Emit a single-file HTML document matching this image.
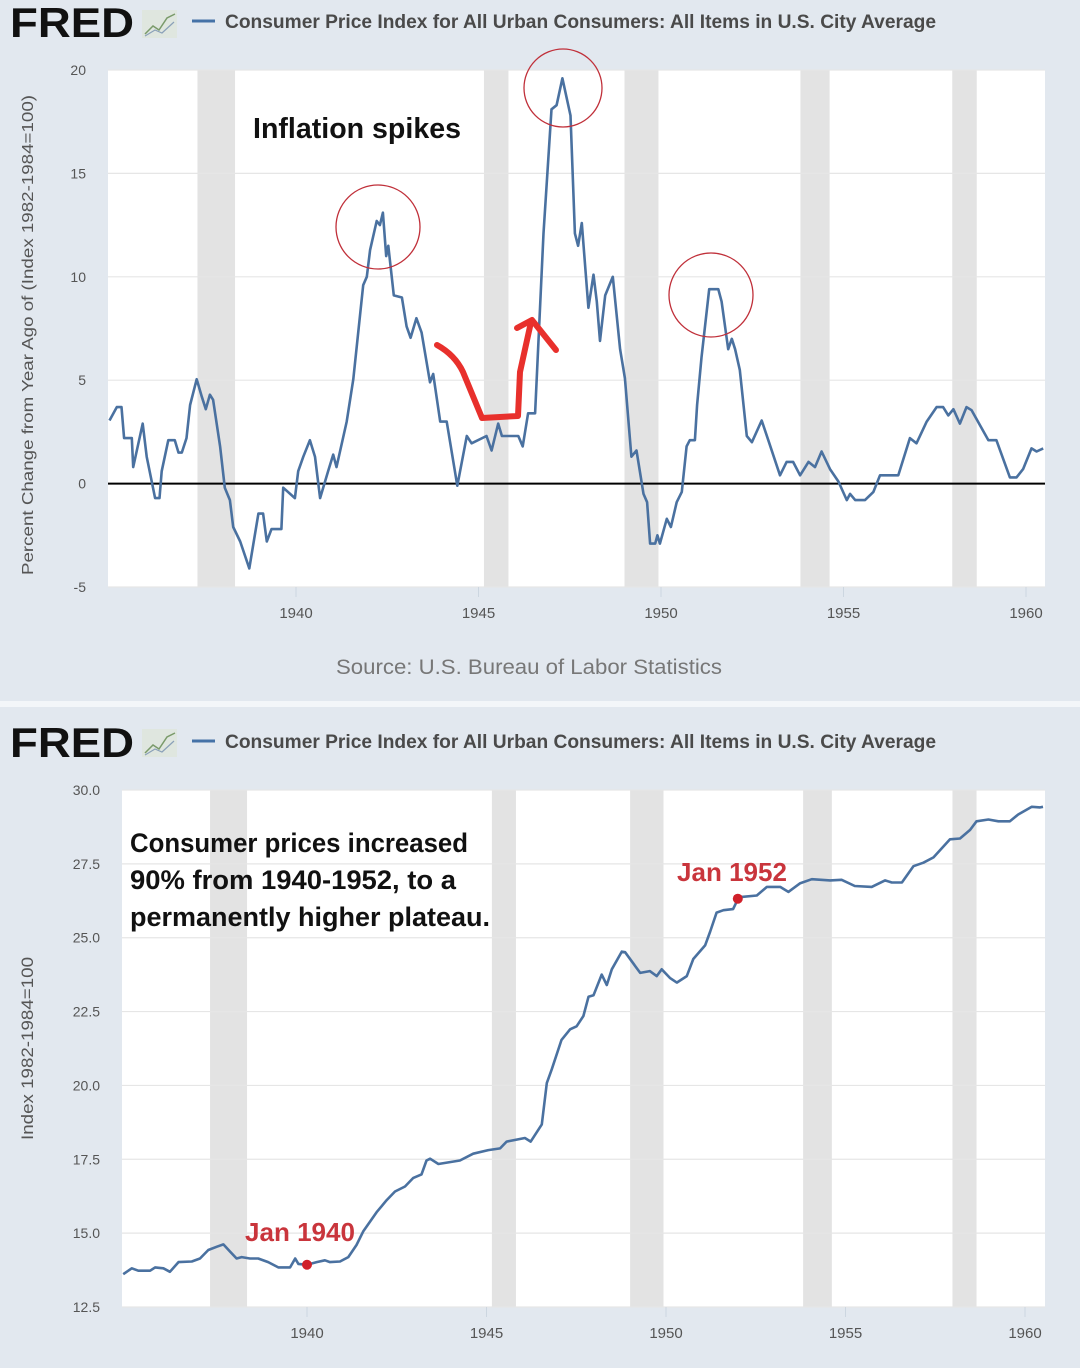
<!DOCTYPE html>
<html><head><meta charset="utf-8">
<style>
html,body{margin:0;padding:0;background:#e2e8ef;}
svg{display:block;font-family:"Liberation Sans",Arial,sans-serif;}
</style></head>
<body>
<svg id="page" width="1080" height="1368" viewBox="0 0 1080 1368" xmlns="http://www.w3.org/2000/svg">
<rect x="0" y="0" width="1080" height="1368" fill="#e2e8ef"/>
<rect x="0" y="701" width="1080" height="6" fill="#f3f6f9"/>

<g>
  <text x="10" y="37" font-size="42" font-weight="bold" fill="#111" textLength="124" lengthAdjust="spacingAndGlyphs">FRED</text>
  <g><rect x="142" y="10" width="35" height="28" fill="#dfe6df"/><polyline points="145,34 153,26 159,30 167,18 175,14" fill="none" stroke="#7a9a6a" stroke-width="1.5"/><polyline points="145,36 155,30 162,33 174,22" fill="none" stroke="#8aa0b8" stroke-width="1.2"/></g>
  <line x1="192" y1="21" x2="215" y2="21" stroke="#4572a7" stroke-width="3"/>
  <text x="225" y="28" font-size="19" font-weight="bold" fill="#4a4a4a" textLength="711" lengthAdjust="spacingAndGlyphs">Consumer Price Index for All Urban Consumers: All Items in U.S. City Average</text>
</g>
<g>
  <text x="10" y="757" font-size="42" font-weight="bold" fill="#111" textLength="124" lengthAdjust="spacingAndGlyphs">FRED</text>
  <g><rect x="142" y="729" width="35" height="28" fill="#dfe6df"/><polyline points="145,753 153,745 159,749 167,737 175,733" fill="none" stroke="#7a9a6a" stroke-width="1.5"/><polyline points="145,755 155,749 162,752 174,741" fill="none" stroke="#8aa0b8" stroke-width="1.2"/></g>
  <line x1="192" y1="741" x2="215" y2="741" stroke="#4572a7" stroke-width="3"/>
  <text x="225" y="748" font-size="19" font-weight="bold" fill="#4a4a4a" textLength="711" lengthAdjust="spacingAndGlyphs">Consumer Price Index for All Urban Consumers: All Items in U.S. City Average</text>
</g>

<g id="top"></g>
<g id="bot"></g>

<text x="336" y="674" font-size="21" fill="#777" textLength="386" lengthAdjust="spacingAndGlyphs">Source: U.S. Bureau of Labor Statistics</text>
<text transform="translate(33,575) rotate(-90)" font-size="16" fill="#555" textLength="480" lengthAdjust="spacingAndGlyphs">Percent Change from Year Ago of (Index 1982-1984=100)</text>
<text transform="translate(33,1140) rotate(-90)" font-size="17" fill="#555" textLength="183" lengthAdjust="spacingAndGlyphs">Index 1982-1984=100</text>

<g>
  <text x="253" y="138" font-size="29" font-weight="bold" fill="#111" textLength="208" lengthAdjust="spacingAndGlyphs">Inflation spikes</text>
  <circle cx="378" cy="227" r="42" fill="none" stroke="#c0303a" stroke-width="1.3"/>
  <circle cx="563" cy="88" r="39" fill="none" stroke="#c0303a" stroke-width="1.3"/>
  <circle cx="711" cy="295" r="42" fill="none" stroke="#c0303a" stroke-width="1.3"/>
  <path d="M437,345 Q455,355 463,372 L482,418 L518,416 L520,372 L531,322" fill="none" stroke="#e8302c" stroke-width="6" stroke-linecap="round" stroke-linejoin="round"/>
  <path d="M517,328 L532,320 L556,350" fill="none" stroke="#e8302c" stroke-width="6" stroke-linecap="round" stroke-linejoin="round"/>
</g>
<g>
  <text font-size="27" font-weight="bold" fill="#111">
    <tspan x="130" y="852" textLength="338" lengthAdjust="spacingAndGlyphs">Consumer prices increased</tspan>
    <tspan x="130" y="889" textLength="326" lengthAdjust="spacingAndGlyphs">90% from 1940-1952, to a</tspan>
    <tspan x="130" y="926" textLength="360" lengthAdjust="spacingAndGlyphs">permanently higher plateau.</tspan>
  </text>
  <text x="245" y="1241" font-size="26" font-weight="bold" fill="#c9353c" textLength="110" lengthAdjust="spacingAndGlyphs">Jan 1940</text>
  <text x="677" y="881" font-size="26" font-weight="bold" fill="#c9353c" textLength="110" lengthAdjust="spacingAndGlyphs">Jan 1952</text>
</g>
</svg>

<script>
// ---- Top chart data: percent change from year ago ----
const topYears = [1934.89,1935.09,1935.22,1935.29,1935.5,1935.54,1935.8,1935.91,1936.14,1936.26,1936.32,1936.5,1936.68,1936.78,1936.87,1937.0,1937.1,1937.28,1937.42,1937.53,1937.64,1937.73,1937.92,1938.05,1938.19,1938.28,1938.47,1938.72,1938.97,1939.1,1939.2,1939.33,1939.6,1939.65,1939.97,1940.06,1940.2,1940.38,1940.52,1940.66,1940.88,1941.02,1941.11,1941.39,1941.57,1941.84,1941.94,1942.03,1942.21,1942.3,1942.38,1942.47,1942.53,1942.68,1942.9,1943.03,1943.14,1943.3,1943.44,1943.67,1943.76,1943.95,1944.13,1944.42,1944.68,1944.81,1945.22,1945.36,1945.54,1945.64,1946.09,1946.21,1946.36,1946.55,1946.78,1947.0,1947.14,1947.3,1947.52,1947.64,1947.73,1947.83,1948.01,1948.15,1948.24,1948.33,1948.47,1948.68,1948.88,1949.01,1949.19,1949.33,1949.52,1949.62,1949.7,1949.84,1949.9,1949.97,1950.16,1950.27,1950.43,1950.57,1950.7,1950.79,1950.93,1950.99,1951.11,1951.32,1951.57,1951.66,1951.84,1951.94,1952.03,1952.16,1952.35,1952.49,1952.76,1952.94,1953.26,1953.44,1953.62,1953.81,1954.04,1954.22,1954.4,1954.63,1954.86,1955.09,1955.18,1955.32,1955.59,1955.82,1956.0,1956.5,1956.82,1957.0,1957.28,1957.55,1957.73,1957.87,1958.01,1958.19,1958.37,1958.51,1958.97,1959.19,1959.56,1959.74,1959.92,1960.15,1960.29,1960.47];
const topValues = [3.05,3.7,3.7,2.2,2.2,0.8,2.9,1.3,-0.7,-0.7,0.6,2.1,2.1,1.5,1.5,2.2,3.8,5.05,4.2,3.6,4.3,4.05,1.8,-0.2,-0.8,-2.1,-2.8,-4.1,-1.45,-1.45,-2.8,-2.2,-2.2,-0.2,-0.7,0.6,1.3,2.1,1.3,-0.7,0.6,1.4,0.8,3.0,5.05,9.6,10.0,11.3,12.7,12.5,13.1,11.0,11.5,9.1,9.0,7.6,7.05,8.0,7.3,4.9,5.3,3.0,3.0,-0.1,2.3,1.95,2.3,1.6,2.9,2.3,2.3,1.8,3.4,3.4,12.1,18.1,18.3,19.6,17.8,12.1,11.5,12.6,8.5,10.1,8.8,6.9,9.1,10.0,6.5,5.1,1.3,1.6,-0.5,-0.9,-2.9,-2.9,-2.5,-2.9,-1.7,-2.1,-0.9,-0.4,1.8,2.1,2.1,3.8,6.1,9.4,9.4,8.8,6.5,7.0,6.5,5.5,2.3,2.0,3.05,2.1,0.4,1.05,1.05,0.4,1.05,0.8,1.55,0.7,0.1,-0.8,-0.5,-0.8,-0.8,-0.4,0.4,0.4,2.2,1.95,3.0,3.7,3.7,3.3,3.6,2.9,3.7,3.55,2.1,2.1,0.3,0.3,0.7,1.7,1.55,1.7];
const topTicksY = [-5,0,5,10,15,20];
const topTicksX = [1940,1945,1950,1955,1960];
const recessionStarts = [1937.3,1945.15,1949.0,1953.82,1957.98];
const recessionEnds = [1938.33,1945.82,1949.93,1954.62,1958.65];

// ---- Bottom chart data: CPI index level ----
const botYears = [1934.88,1935.12,1935.3,1935.63,1935.77,1936.0,1936.18,1936.42,1936.79,1937.02,1937.25,1937.49,1937.67,1937.86,1938.04,1938.18,1938.41,1938.64,1938.92,1939.2,1939.53,1939.67,1939.76,1940.0,1940.27,1940.5,1940.64,1940.92,1941.15,1941.38,1941.57,1941.94,1942.22,1942.45,1942.73,1942.96,1943.19,1943.33,1943.43,1943.66,1944.26,1944.63,1945.05,1945.38,1945.56,1946.07,1946.23,1946.54,1946.68,1946.82,1947.09,1947.33,1947.51,1947.7,1947.84,1947.98,1948.21,1948.35,1948.49,1948.77,1948.86,1949.28,1949.55,1949.74,1949.88,1950.11,1950.3,1950.58,1950.76,1951.09,1951.23,1951.41,1951.6,1951.87,1952.0,1952.11,1952.53,1952.81,1953.18,1953.41,1953.73,1954.06,1954.57,1954.89,1955.26,1955.73,1956.1,1956.29,1956.57,1956.89,1957.17,1957.45,1957.91,1958.19,1958.47,1958.65,1958.98,1959.26,1959.58,1959.81,1960.19,1960.42,1960.5];
const botValues = [13.61,13.81,13.73,13.73,13.84,13.81,13.69,14.02,14.04,14.14,14.43,14.54,14.62,14.37,14.14,14.19,14.14,14.14,14.02,13.84,13.84,14.14,13.96,13.93,14.02,14.08,14.02,14.04,14.19,14.6,15.07,15.71,16.12,16.41,16.58,16.87,16.99,17.46,17.52,17.34,17.46,17.69,17.81,17.87,18.1,18.22,18.1,18.68,20.08,20.55,21.54,21.9,22.0,22.35,23.0,23.05,23.75,23.4,23.93,24.53,24.51,23.81,23.87,23.7,23.93,23.64,23.48,23.7,24.28,24.74,25.21,25.85,25.93,25.97,26.3,26.38,26.43,26.72,26.72,26.55,26.84,26.98,26.94,26.96,26.75,26.72,26.94,26.87,26.87,27.42,27.54,27.72,28.33,28.36,28.65,28.94,29.0,28.94,28.94,29.17,29.43,29.41,29.43];
const botTicksY = [12.5,15.0,17.5,20.0,22.5,25.0,27.5,30.0];
const botTicksX = [1940,1945,1950,1955,1960];
const markerYears = [1940.0,1952.0];
const markerValues = [13.93,26.32];

const NS = "http://www.w3.org/2000/svg";
function mk(tag, attrs, parent){const e=document.createElementNS(NS,tag);for(const k in attrs)e.setAttribute(k,attrs[k]);parent.appendChild(e);return e;}

function drawChart(g, cfg){
  const left=cfg.left,right=cfg.right,top=cfg.top,bottom=cfg.bottom,yMin=cfg.yMin,yMax=cfg.yMax;
  const xs = y => cfg.xAt1940 + (y-1940)*(cfg.xAt1960-cfg.xAt1940)/20;
  const ys = v => bottom - (v-yMin)*(bottom-top)/(yMax-yMin);
  const plot = mk('rect',{x:left,y:top,width:right-left,height:bottom-top,fill:'#fff'},g);
  
  
  for(let i=0;i<recessionStarts.length;i++){
    const r = mk('rect',{x:xs(recessionStarts[i]),y:top,width:xs(recessionEnds[i])-xs(recessionStarts[i]),height:bottom-top,fill:'#e3e3e3'},g);
    
    
  }
  cfg.ticksY.forEach(t=>{
    const l = mk('line',{x1:left,x2:right,y1:ys(t),y2:ys(t),stroke:'#e6e6e6','stroke-width':1.2},g);
    
    
    const tx = mk('text',{x:cfg.labelX,y:ys(t)+5,'font-size':14,fill:'#555','text-anchor':'end'},g);
    tx.textContent = cfg.fmt(t);
    
    
  });
  cfg.ticksX.forEach(t=>{
    const l = mk('line',{x1:xs(t),x2:xs(t),y1:bottom,y2:bottom+10,stroke:'#ccd6e0','stroke-width':1},g);
    
    
    const tx = mk('text',{x:xs(t),y:bottom+31,'font-size':15,fill:'#555','text-anchor':'middle'},g);
    tx.textContent = String(t);
    
    
  });
  if(cfg.zeroLine){
    const z = mk('line',{x1:left,x2:right,y1:ys(0),y2:ys(0),stroke:'#000','stroke-width':2},g);
    
    
  }
  let d='';
  for(let i=0;i<cfg.years.length;i++){
    const x = Math.max(left, Math.min(right, xs(cfg.years[i])));
    d += (i?'L':'M') + x.toFixed(1) + ',' + ys(cfg.values[i]).toFixed(1);
  }
  const p = mk('path',{d:d,fill:'none',stroke:'#4a71a0','stroke-width':2.6,'stroke-linejoin':'round'},g);
  
  
  return {xs:xs,ys:ys};
}

drawChart(document.getElementById('top'),{left:108,right:1045,top:70,bottom:587,yMin:-5,yMax:20,xAt1940:296,xAt1960:1026,
  ticksY:topTicksY,ticksX:topTicksX,years:topYears,values:topValues,fmt:t=>String(t),labelX:86,zeroLine:true});
const b = drawChart(document.getElementById('bot'),{left:122,right:1045,top:790,bottom:1307,yMin:12.5,yMax:30,xAt1940:307,xAt1960:1025,
  ticksY:botTicksY,ticksX:botTicksX,years:botYears,values:botValues,fmt:t=>t.toFixed(1),labelX:100,zeroLine:false});
const bg = document.getElementById('bot');
for(let i=0;i<markerYears.length;i++){
  const c = mk('circle',{cx:b.xs(markerYears[i]),cy:b.ys(markerValues[i]),r:5,fill:'#d0202a'},bg);
  
  
}
</script>
</body></html>
